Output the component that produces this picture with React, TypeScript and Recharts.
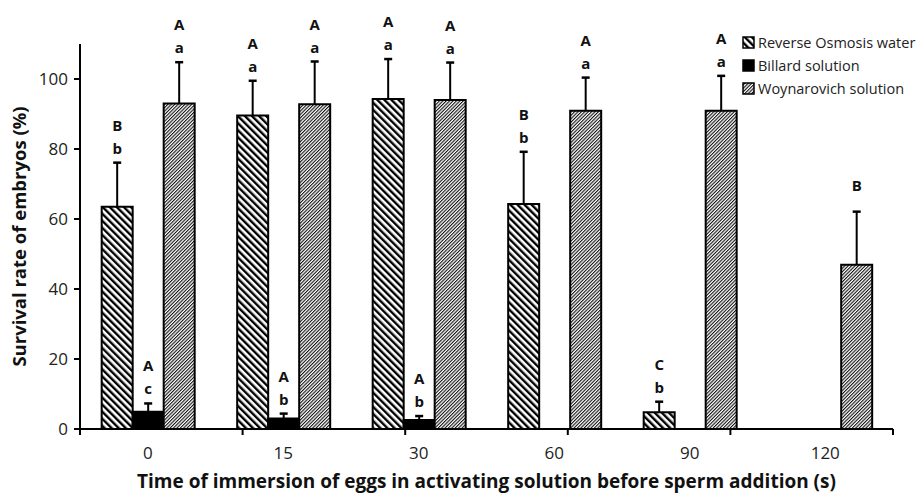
import React from "react";
import { BarChart, Bar, XAxis, YAxis, Legend, LabelList, Label } from "recharts";

const FONT = "'Open Sans', sans-serif";

// immersion time (s)
const times = ["0", "15", "30", "60", "90", "120"];

// survival rate (%) and upper SD
const roMean = [63.5, 89.6, 94.3, 64.3, 4.8, null];
const roSd = [12.6, 9.9, 11.4, 14.9, 3.0, null];
const billardMean = [4.9, 3.0, 2.6, null, null, null];
const billardSd = [2.4, 1.4, 1.1, null, null, null];
const woyMean = [93.0, 92.8, 94.0, 90.9, 90.9, 46.9];
const woySd = [11.8, 12.2, 10.7, 9.5, 10.0, 15.2];

// significance letters (upper|lower)
const roTags = ["B|b", "A|a", "A|a", "B|b", "C|b", ""];
const billardTags = ["A|c", "A|b", "A|b", "", "", ""];
const woyTags = ["A|a", "A|a", "A|a", "A|a", "A|a", "B"];

const yTicks = [0, 20, 40, 60, 80, 100];
const edgeTicks = [0, 1, 2, 3, 4, 5, 6];
const legendOrder = ["ro", "billard", "woy"];

const data = times.map((t, i) => ({
  time: t,
  ro: roMean[i],
  roErr: roSd[i],
  roTag: roTags[i],
  billard: billardMean[i],
  billardErr: billardSd[i],
  billardTag: billardTags[i],
  woy: woyMean[i],
  woyErr: woySd[i],
  woyTag: woyTags[i],
}));

const Whisker = (props: any) => {
  const { x, y, width, height } = props;
  if (x == null || !height) return null;
  const cx = x + width / 2;
  return (
    <g>
      <line x1={cx} x2={cx} y1={y + height} y2={y} stroke="#000" strokeWidth={2} />
      <line x1={cx - 4} x2={cx + 4} y1={y} y2={y} stroke="#000" strokeWidth={2.5} />
    </g>
  );
};

const Letters = (props: any) => {
  const { x, y, width, value } = props;
  if (!value) return null;
  const [up, low] = String(value).split("|");
  const cx = x + width / 2;
  const style = { fontFamily: FONT, fontSize: 15, fontWeight: 700, fill: "#111" };
  if (!low) {
    return (
      <text x={cx} y={y - 21} textAnchor="middle" style={style}>
        {up}
      </text>
    );
  }
  return (
    <g>
      <text x={cx} y={y - 32} textAnchor="middle" style={style}>
        {up}
      </text>
      <text x={cx} y={y - 9} textAnchor="middle" style={style}>
        {low}
      </text>
    </g>
  );
};

const LegendBox = (props: any) => {
  const items = (props.payload || [])
    .filter((p: any) => p.type !== "none")
    .sort((a: any, b: any) => legendOrder.indexOf(a.dataKey) - legendOrder.indexOf(b.dataKey));
  return (
    <div style={{ fontFamily: FONT, fontSize: 14.5, color: "#222" }}>
      {items.map((p: any) => (
        <div key={p.value} style={{ display: "flex", alignItems: "center", height: 23 }}>
          <svg width={13} height={13} style={{ marginRight: 3 }}>
            <rect x={1} y={1} width={11} height={11} fill={p.payload?.fill || p.color} stroke="#000" strokeWidth={1.5} />
          </svg>
          <span>{p.value}</span>
        </div>
      ))}
    </div>
  );
};

export default function App() {
  return (
    <div style={{ position: "absolute", left: 0, top: 0, background: "#fff" }}>
      <BarChart
        width={923}
        height={496}
        data={data}
        margin={{ top: 44, right: 30, left: 0, bottom: 0 }}
        barCategoryGap="16%"
        barGap={0}
      >
        <defs>
          <pattern id="roPat" width={5} height={5} patternUnits="userSpaceOnUse" patternTransform="rotate(-45)">
            <rect width={5} height={5} fill="#fff" />
            <rect width={2.4} height={5} fill="#000" />
          </pattern>
          <pattern id="woyPat" width={2.4} height={2.4} patternUnits="userSpaceOnUse" patternTransform="rotate(45)">
            <rect width={2.4} height={2.4} fill="#fff" />
            <rect width={1.1} height={2.4} fill="#111" />
          </pattern>
        </defs>

        <XAxis
          xAxisId="zcat"
          dataKey="time"
          height={66}
          axisLine={false}
          tickLine={false}
          tickSize={6}
          tickMargin={11}
          tick={{ fill: "#222", fontSize: 17, fontFamily: FONT }}
        >
          <Label
            content={(p: any) => {
              const vb = p.viewBox;
              return (
                <text
                  x={vb.x + vb.width / 2}
                  y={vb.y + vb.height - 8}
                  textAnchor="middle"
                  style={{ fontFamily: FONT, fontSize: 19, fontWeight: 700, fill: "#111" }}
                >
                  Time of immersion of eggs in activating solution before sperm addition (s)
                </text>
              );
            }}
          />
        </XAxis>
        <XAxis
          xAxisId="aedge"
          type="number"
          domain={[0, 6]}
          ticks={edgeTicks}
          allowDataOverflow
          height={1}
          tickSize={6}
          tickFormatter={() => ""}
          axisLine={{ stroke: "#000", strokeWidth: 2 }}
          tickLine={{ stroke: "#000", strokeWidth: 2 }}
        />
        <YAxis
          width={80}
          domain={[0, 110]}
          ticks={yTicks}
          allowDataOverflow
          tickSize={6}
          tickMargin={6}
          axisLine={{ stroke: "#000", strokeWidth: 2 }}
          tickLine={{ stroke: "#000", strokeWidth: 2 }}
          tick={{ fill: "#222", fontSize: 17, fontFamily: FONT }}
        >
          <Label
            content={(p: any) => {
              const vb = p.viewBox;
              const cx = vb.x + 18;
              const cy = vb.y + vb.height / 2;
              return (
                <text
                  x={cx}
                  y={cy}
                  transform={`rotate(-90, ${cx}, ${cy})`}
                  textAnchor="middle"
                  dominantBaseline="central"
                  style={{ fontFamily: FONT, fontSize: 18.5, fontWeight: 700, fill: "#111" }}
                >
                  Survival rate of embryos (%)
                </text>
              );
            }}
          />
        </YAxis>

        <Legend
          layout="vertical"
          align="center"
          verticalAlign="middle"
          content={<LegendBox />}
          wrapperStyle={{ position: "absolute", top: 31, left: 742, width: 181 }}
        />

        <Bar xAxisId="zcat" dataKey="ro" name="Reverse Osmosis water" stackId="ro" fill="url(#roPat)" stroke="#000" strokeWidth={2} isAnimationActive={false} />
        <Bar xAxisId="zcat" dataKey="roErr" stackId="ro" legendType="none" fill="none" shape={<Whisker />} isAnimationActive={false}>
          <LabelList dataKey="roTag" content={<Letters />} />
        </Bar>
        <Bar xAxisId="zcat" dataKey="billard" name="Billard solution" stackId="bi" fill="#000" stroke="#000" strokeWidth={2} isAnimationActive={false} />
        <Bar xAxisId="zcat" dataKey="billardErr" stackId="bi" legendType="none" fill="none" shape={<Whisker />} isAnimationActive={false}>
          <LabelList dataKey="billardTag" content={<Letters />} />
        </Bar>
        <Bar xAxisId="zcat" dataKey="woy" name="Woynarovich solution" stackId="wo" fill="url(#woyPat)" stroke="#000" strokeWidth={2} isAnimationActive={false} />
        <Bar xAxisId="zcat" dataKey="woyErr" stackId="wo" legendType="none" fill="none" shape={<Whisker />} isAnimationActive={false}>
          <LabelList dataKey="woyTag" content={<Letters />} />
        </Bar>
      </BarChart>
    </div>
  );
}
